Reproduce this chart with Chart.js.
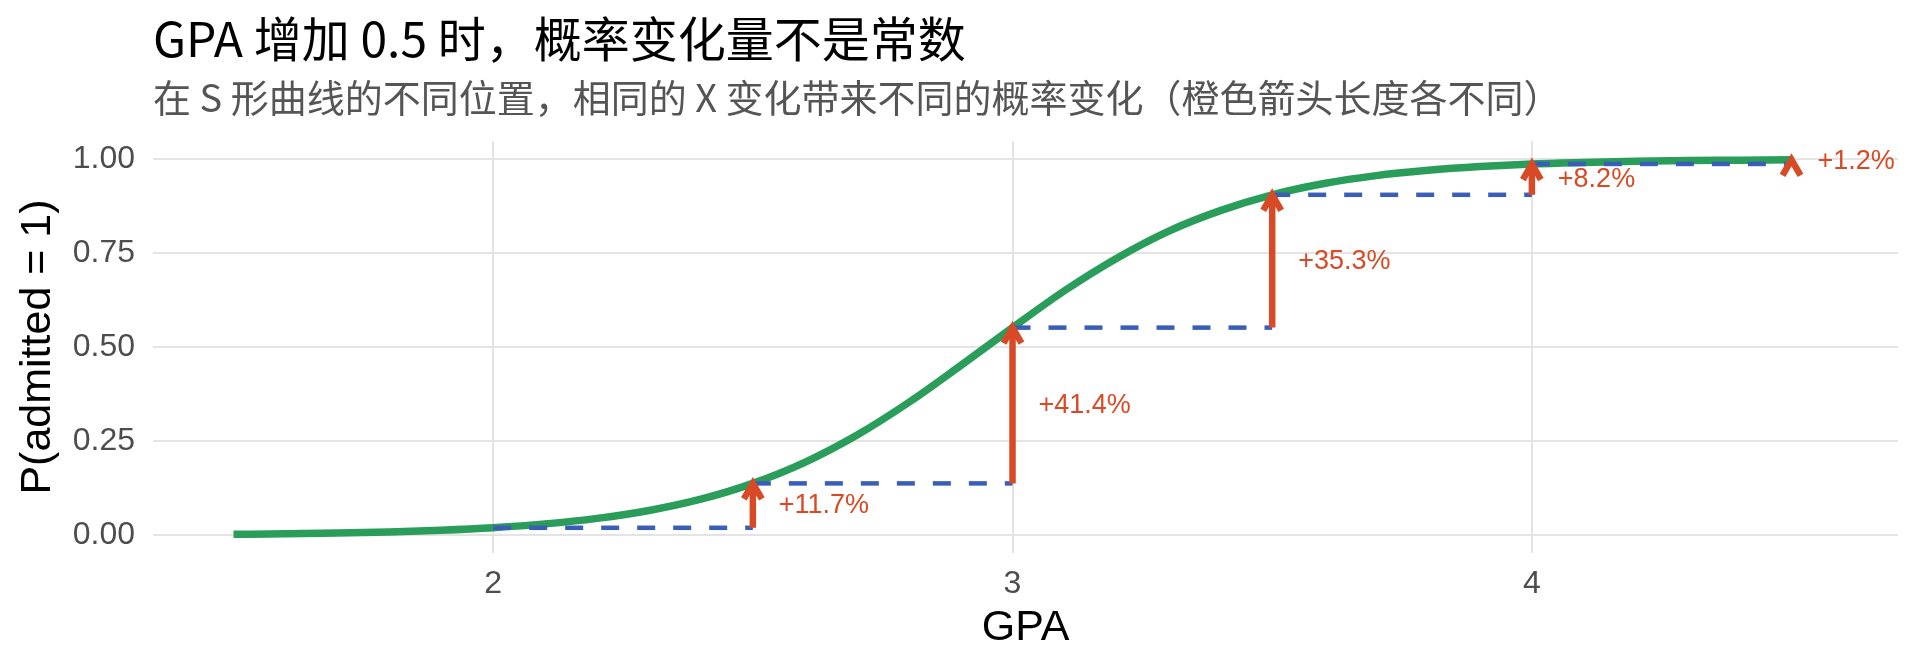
<!DOCTYPE html>
<html><head><meta charset="utf-8">
<script src="https://cdn.jsdelivr.net/npm/chart.js@4.4.1/dist/chart.umd.min.js"></script>
<style>html,body{margin:0;padding:0;background:#fff}#wrap{width:1920px;height:672px;position:relative}</style>
</head><body><div id="wrap"><canvas id="c"></canvas></div>
<script>
// ---- data ----
const gpaGrid = [1.5,1.6,1.7,1.8,1.9,2.0,2.1,2.2,2.3,2.4,2.5,2.6,2.7,2.8,2.9,3.0,3.1,3.2,3.3,3.4,3.5,3.6,3.7,3.8,3.9,4.0,4.1,4.2,4.3,4.4,4.5];
const probCurve = [0.0027,0.0041,0.0061,0.0091,0.0137,0.0204,0.0304,0.045,0.066,0.096,0.138,0.194,0.266,0.353,0.451,0.552,0.650,0.736,0.808,0.863,0.905,0.935,0.956,0.970,0.980,0.987,0.991,0.994,0.996,0.997,0.998];
const stepFrom = [2.0,2.5,3.0,3.5,4.0];
const stepTo = [2.5,3.0,3.5,4.0,4.5];
const probFrom = [0.020,0.138,0.552,0.905,0.987];
const probTo = [0.138,0.552,0.905,0.987,0.998];
const changeLabels = ['+11.7%','+41.4%','+35.3%','+8.2%','+1.2%'];
const xTickValues = [2,3,4];
const yTickValues = [0,0.25,0.5,0.75,1];

const GREEN = '#2a9d5a', BLUE = '#3a5eb8', ORANGE = '#d84a26';
const LATIN = '"Liberation Sans", Arial, sans-serif';
const CJK = '"Noto Sans CJK SC", "Noto Sans", sans-serif';

const arrowPlugin = {
  id: 'arrows',
  afterDatasetsDraw(chart) {
    const {ctx, scales: {x, y}} = chart;
    ctx.save();
    ctx.strokeStyle = ORANGE;
    ctx.fillStyle = ORANGE;
    ctx.lineWidth = 6.5;
    ctx.lineJoin = 'miter';
    ctx.lineCap = 'butt';
    const L = 18, a = Math.PI / 6;
    stepTo.forEach((gx, i) => {
      const px = x.getPixelForValue(gx);
      const y0 = y.getPixelForValue(probFrom[i]);
      const y1 = y.getPixelForValue(probTo[i]);
      ctx.beginPath(); ctx.moveTo(px, y0); ctx.lineTo(px, y1); ctx.stroke();
      ctx.beginPath();
      ctx.moveTo(px - L * Math.sin(a), y1 + L * Math.cos(a));
      ctx.lineTo(px, y1);
      ctx.lineTo(px + L * Math.sin(a), y1 + L * Math.cos(a));
      ctx.stroke();
      ctx.font = '27px ' + LATIN;
      ctx.textAlign = 'left';
      ctx.textBaseline = 'middle';
      ctx.fillText(changeLabels[i], x.getPixelForValue(gx + 0.05), y.getPixelForValue((probFrom[i] + probTo[i]) / 2));
    });
    ctx.restore();
  }
};

const datasets = [{
  data: gpaGrid.map((g, i) => ({x: g, y: probCurve[i]})),
  borderColor: GREEN, borderWidth: 7.5, pointRadius: 0,
  cubicInterpolationMode: 'monotone', borderCapStyle: 'butt', order: 3
}].concat(stepFrom.map((g, i) => ({
  data: [{x: g, y: probFrom[i]}, {x: stepTo[i], y: probFrom[i]}],
  borderColor: BLUE, borderWidth: 4.5, borderDash: [18, 18], pointRadius: 0, order: 2
})));

new Chart(document.getElementById('c'), {
  type: 'line',
  data: {datasets},
  plugins: [arrowPlugin],
  options: {
    responsive: true, maintainAspectRatio: false, animation: false, devicePixelRatio: 1,
    layout: {padding: {left: 0, right: 22, top: 0, bottom: 0}},
    plugins: {
      legend: {display: false},
      tooltip: {enabled: false},
      title: {display: true, text: 'GPA 增加 0.5 时，概率变化量不是常数', align: 'start', fullSize: false,
        color: '#000', font: {family: CJK, size: 48, weight: 'normal', lineHeight: 1.2}, padding: {top: 10, bottom: 0}},
      subtitle: {display: true, text: '在 S 形曲线的不同位置，相同的 X 变化带来不同的概率变化（橙色箭头长度各不同）', align: 'start', fullSize: false,
        color: '#555555', font: {family: CJK, size: 38, weight: 'normal', lineHeight: 1.2}, padding: {top: 7.6, bottom: 20.2}}
    },
    scales: {
      x: {
        type: 'linear', min: 1.345, max: 4.705,
        afterBuildTicks: s => { s.ticks = xTickValues.map(v => ({value: v})); },
        afterFit: s => { s.height = 119; },
        grid: {color: '#e4e4e4', lineWidth: 2, drawTicks: false},
        border: {display: false},
        ticks: {padding: 12, color: '#4d4d4d', font: {family: LATIN, size: 32}, callback: v => String(v), maxRotation: 0},
        title: {display: true, text: 'GPA', color: '#000', font: {family: LATIN, size: 43, lineHeight: 1.2}, padding: {top: 0, bottom: 18}}
      },
      y: {
        type: 'linear', min: -0.047, max: 1.048,
        afterBuildTicks: s => { s.ticks = yTickValues.map(v => ({value: v})); },
        afterFit: s => { s.width = 153; },
        grid: {color: '#e4e4e4', lineWidth: 2, drawTicks: false},
        border: {display: false},
        ticks: {padding: 18, color: '#4d4d4d', font: {family: LATIN, size: 32}, callback: v => Number(v).toFixed(2)},
        title: {display: true, text: 'P(admitted = 1)', color: '#000', font: {family: LATIN, size: 43, lineHeight: 1.2}, padding: {top: 12, bottom: 0}}
      }
    }
  }
});
</script>
</body></html>
